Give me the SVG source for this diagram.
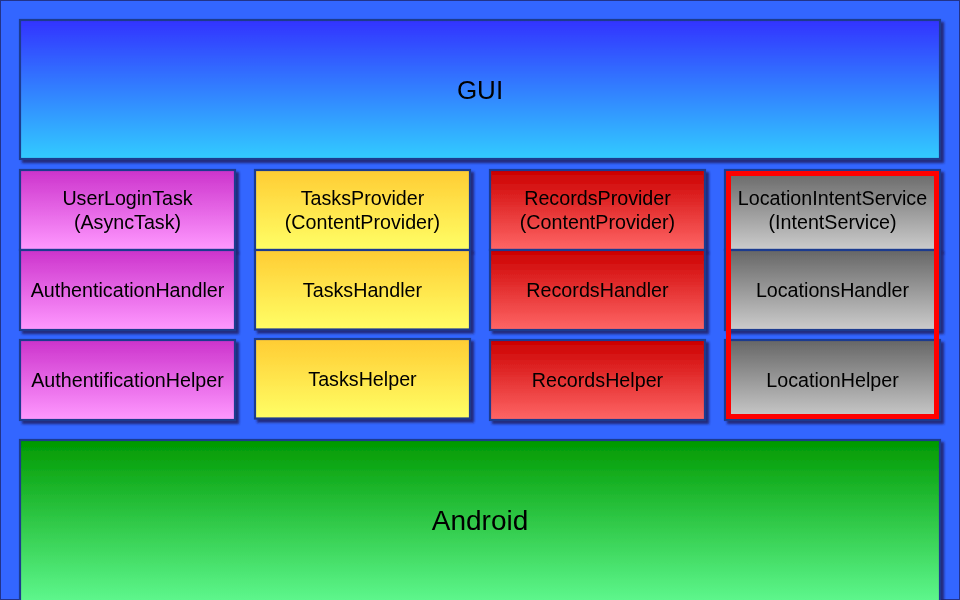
<svg xmlns="http://www.w3.org/2000/svg" width="960" height="600" viewBox="0 0 960 600">
<style>
.box{stroke:#1f3a8f;stroke-width:2.2}
.t{font-family:"Liberation Sans",Arial,sans-serif;font-size:19.7px;fill:#000;text-anchor:middle}
.big{font-family:"Liberation Sans",Arial,sans-serif;fill:#000;text-anchor:middle}
</style>
<defs>
<linearGradient id="gGui" x1="0" y1="0" x2="0" y2="1"><stop offset="0" stop-color="#3333ff"/><stop offset="1" stop-color="#33ccff"/></linearGradient>
<linearGradient id="gAnd" x1="0" y1="0" x2="0" y2="1"><stop offset="0" stop-color="#009900"/><stop offset="1" stop-color="#66ff99"/></linearGradient>
<linearGradient id="gMag" x1="0" y1="0" x2="0" y2="1"><stop offset="0" stop-color="#cc33cc"/><stop offset="1" stop-color="#ff99ff"/></linearGradient>
<linearGradient id="gYel" x1="0" y1="0" x2="0" y2="1"><stop offset="0" stop-color="#ffcc33"/><stop offset="1" stop-color="#ffff66"/></linearGradient>
<linearGradient id="gRed" x1="0" y1="0" x2="0" y2="1"><stop offset="0" stop-color="#cc0000"/><stop offset="1" stop-color="#ff6666"/></linearGradient>
<linearGradient id="gGry" x1="0" y1="0" x2="0" y2="1"><stop offset="0" stop-color="#666666"/><stop offset="1" stop-color="#cccccc"/></linearGradient>
<filter id="sh" x="-5%" y="-5%" width="115%" height="115%">
<feDropShadow dx="3" dy="3" stdDeviation="1.2" flood-color="#1a2466" flood-opacity="0.85"/>
</filter>
</defs>
<rect x="0.5" y="0.5" width="959" height="599" fill="#3366ff" stroke="#223388" stroke-width="1"/>

<g id="gui" filter="url(#sh)">
<rect class="box" x="20" y="20" width="920" height="139" fill="url(#gGui)"/>
<text class="big" x="480" y="99" font-size="26">GUI</text>
</g>

<g id="android" filter="url(#sh)">
<rect class="box" x="20" y="440" width="920" height="175" fill="url(#gAnd)"/>
<text class="big" x="480" y="530" font-size="28">Android</text>
</g>

<g id="userLoginTask" filter="url(#sh)">
<rect class="box" x="20" y="170" width="215" height="80" fill="url(#gMag)"/>
<text class="t" x="127.5" y="205">UserLoginTask</text>
<text class="t" x="127.5" y="228.5">(AsyncTask)</text>
</g>
<g id="authenticationHandler" filter="url(#sh)">
<rect class="box" x="20" y="250" width="215" height="80" fill="url(#gMag)"/>
<text class="t" x="127.5" y="297">AuthenticationHandler</text>
</g>
<g id="authentificationHelper" filter="url(#sh)">
<rect class="box" x="20" y="340" width="215" height="80" fill="url(#gMag)"/>
<text class="t" x="127.5" y="387">AuthentificationHelper</text>
</g>

<g id="tasksProvider" filter="url(#sh)">
<rect class="box" x="255" y="170" width="215" height="80" fill="url(#gYel)"/>
<text class="t" x="362.5" y="205">TasksProvider</text>
<text class="t" x="362.5" y="228.5">(ContentProvider)</text>
</g>
<g id="tasksHandler" filter="url(#sh)">
<rect class="box" x="255" y="250" width="215" height="79.5" fill="url(#gYel)"/>
<text class="t" x="362.5" y="297">TasksHandler</text>
</g>
<g id="tasksHelper" filter="url(#sh)">
<rect class="box" x="255" y="339" width="215" height="79.5" fill="url(#gYel)"/>
<text class="t" x="362.5" y="386">TasksHelper</text>
</g>

<g id="recordsProvider" filter="url(#sh)">
<rect class="box" x="490" y="170" width="215" height="80" fill="url(#gRed)"/>
<text class="t" x="597.5" y="205">RecordsProvider</text>
<text class="t" x="597.5" y="228.5">(ContentProvider)</text>
</g>
<g id="recordsHandler" filter="url(#sh)">
<rect class="box" x="490" y="250" width="215" height="80" fill="url(#gRed)"/>
<text class="t" x="597.5" y="297">RecordsHandler</text>
</g>
<g id="recordsHelper" filter="url(#sh)">
<rect class="box" x="490" y="340" width="215" height="80" fill="url(#gRed)"/>
<text class="t" x="597.5" y="387">RecordsHelper</text>
</g>

<g id="locationIntentService" filter="url(#sh)">
<rect class="box" x="725" y="170" width="215" height="80" fill="url(#gGry)"/>
<text class="t" x="832.5" y="205">LocationIntentService</text>
<text class="t" x="832.5" y="228.5">(IntentService)</text>
</g>
<g id="locationsHandler" filter="url(#sh)">
<rect class="box" x="725" y="250" width="215" height="80" fill="url(#gGry)"/>
<text class="t" x="832.5" y="297">LocationsHandler</text>
</g>
<g id="locationHelper" filter="url(#sh)">
<rect class="box" x="725" y="340" width="215" height="80" fill="url(#gGry)"/>
<text class="t" x="832.5" y="387">LocationHelper</text>
</g>

<g id="connectors"></g>

<g id="highlight">
<rect x="728.5" y="173.5" width="208" height="243" fill="none" stroke="#ff0000" stroke-width="5"/>
</g>
</svg>
